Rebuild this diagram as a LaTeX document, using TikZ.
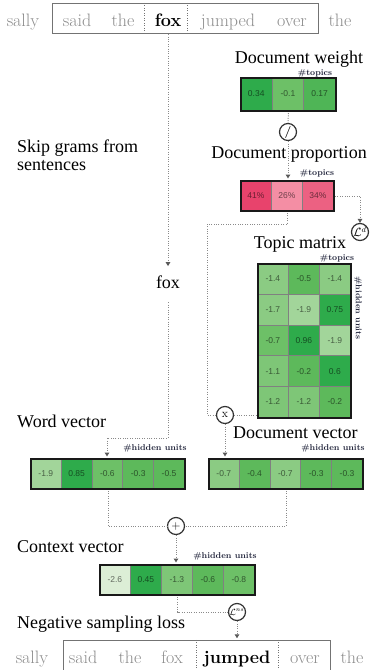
\documentclass[tikz,border=0pt]{standalone}
\usepackage{fontspec}
\newfontfamily\lblfont{Liberation Serif}
\newfontfamily\valfont{Liberation Sans}
\usetikzlibrary{arrows.meta,calc}
\definecolor{gA}{HTML}{2EAB4B}
\definecolor{gB}{HTML}{4FB556}
\definecolor{gC}{HTML}{5DB95B}
\definecolor{gD}{HTML}{6DC067}
\definecolor{gE}{HTML}{7EC677}
\definecolor{gF}{HTML}{8BCB83}
\definecolor{gG}{HTML}{A2D59A}
\definecolor{gH}{HTML}{DCEED6}
\definecolor{pA}{HTML}{E8436C}
\definecolor{pB}{HTML}{F48EA4}
\definecolor{pC}{HTML}{EC6182}
\definecolor{wordgray}{HTML}{8C8C8C}
\definecolor{conngray}{HTML}{8A8A8A}
\definecolor{hdrcol}{HTML}{20233A}
\newcommand{\cellrow}[6]{%
  \foreach \v/\c [count=\i from 0] in {#6}{%
    \node[cellbox, fill=\c, minimum width=#4pt, minimum height=#5pt, anchor=north west] (#1-\i) at ({#2+\i*#4},#3) {\v};
  }}
\begin{document}
\begin{tikzpicture}[x=1pt,y=-1pt,
  word/.style={font=\fontsize{18}{18}\selectfont, text=wordgray, inner sep=0pt, anchor=base},
  bword/.style={font=\fontsize{18}{18}\selectfont\bfseries, text=black, inner sep=0pt, anchor=base},
  wordbox/.style={draw=black!55, line width=0.9pt, inner sep=0pt, anchor=north west},
  sepline/.style={draw=black!55, line width=0.9pt, dash pattern=on 1pt off 1.5pt},
  lbl/.style={font=\lblfont\fontsize{18}{18}\selectfont, inner sep=0pt},
  hdr/.style={font=\fontsize{8.5}{9}\selectfont\bfseries, text=hdrcol, inner sep=0pt},
  cellbox/.style={draw=black!50, line width=0.8pt, inner sep=0pt, font=\valfont\fontsize{8.5}{9}\selectfont, text=black, text opacity=0.55},
  outerbox/.style={draw=black!90, line width=2pt, inner sep=0pt, anchor=north west},
  op/.style={circle, draw=black!80, line width=1.2pt, fill=white, minimum size=17pt, inner sep=0pt, font=\fontsize{12}{12}\selectfont},
  conn/.style={draw=conngray, line width=1pt, dash pattern=on 1pt off 1.4pt},
  aconn/.style={conn, -{Triangle[length=4pt,width=4.5pt,fill=black!65,color=black!65]}}
]
\useasboundingbox (0,0) rectangle (371,670);

% ---------- top sentence ----------
\node[wordbox, minimum width=266pt, minimum height=30pt] (topbox) at (52,3) {};
\node[inner sep=0pt, minimum width=42pt, minimum height=30pt] (tfoxcell) at (166,18) {};
\draw[sepline] (tfoxcell.north west) -- (tfoxcell.south west);
\draw[sepline] (tfoxcell.north east) -- (tfoxcell.south east);
\node[word] (t1) at (23,26) {sally};
\node[word] (t2) at (77,26) {said};
\node[word] (t3) at (123,26) {the};
\node[bword] (t4) at (168,26) {fox};
\node[word] (t5) at (228,26) {jumped};
\node[word] (t6) at (292,26) {over};
\node[word] (t7) at (340,26) {the};

% ---------- labels ----------
\node[lbl, anchor=base west] (skip1) at (17,152) {Skip grams from};
\node[lbl, anchor=base west] (skip2) at (17,170) {sentences};
\node[lbl, anchor=base] (foxlbl) at (168,288) {fox};
\node[lbl, anchor=base] (dwlbl) at (299,63) {Document weight};
\node[lbl, anchor=base] (dplbl) at (289,158) {Document proportion};
\node[lbl, anchor=base] (tmlbl) at (300,248) {Topic matrix};
\node[lbl, anchor=base west] (wvlbl) at (17,427) {Word vector};
\node[lbl, anchor=base west] (dvlbl) at (233,438) {Document vector};
\node[lbl, anchor=base west] (ctxlbl) at (17,552) {Context vector};
\node[lbl, anchor=base west] (nslbl) at (17,628) {Negative sampling loss};

% ---------- document weight ----------
\cellrow{dwc}{240}{77}{31.67}{33}{0.34/gA,-0.1/gD,0.17/gB}
\node[outerbox, minimum width=95pt, minimum height=33pt] (dw) at (240,77) {};
\node[hdr] (dwhdr) at (315,73) {\#topics};

% ---------- document proportion ----------
\cellrow{dpc}{240}{180}{31}{30}{41\%/pA,26\%/pB,34\%/pC}
\node[outerbox, minimum width=93pt, minimum height=30pt] (dp) at (240,180) {};
\node[hdr] (dphdr) at (317,173) {\#topics};

% ---------- topic matrix ----------
\cellrow{tmA}{257}{263}{31}{30.8}{-1.4/gF,-0.5/gC,-1.4/gF}
\cellrow{tmB}{257}{293.8}{31}{30.8}{-1.7/gF,-1.9/gG,0.75/gA}
\cellrow{tmC}{257}{324.6}{31}{30.8}{-0.7/gD,0.96/gA,-1.9/gG}
\cellrow{tmD}{257}{355.4}{31}{30.8}{-1.1/gE,-0.2/gC,0.6/gA}
\cellrow{tmE}{257}{386.2}{31}{30.8}{-1.2/gE,-1.2/gE,-0.2/gC}
\node[outerbox, minimum width=93pt, minimum height=154pt] (tm) at (257,263) {};
\node[hdr] (tmhdr) at (337,258) {\#topics};
\node[hdr, rotate=-90] (tmhdr2) at (358,308) {\#hidden units};

% ---------- word vector ----------
\cellrow{wvc}{30}{458}{30.8}{30}{-1.9/gG,0.85/gA,-0.6/gD,-0.3/gC,-0.5/gC}
\node[outerbox, minimum width=154pt, minimum height=30pt] (wv) at (30,458) {};
\node[hdr] (wvhdr) at (155,448) {\#hidden units};

% ---------- document vector ----------
\cellrow{dvc}{208}{458}{30.8}{30}{-0.7/gF,-0.4/gC,-0.7/gF,-0.3/gC,-0.3/gC}
\node[outerbox, minimum width=154pt, minimum height=30pt] (dv) at (208,458) {};
\node[hdr] (dvhdr) at (333,448) {\#hidden units};

% ---------- context vector ----------
\cellrow{cxc}{99}{564}{31}{30}{-2.6/gH,0.45/gA,-1.3/gE,-0.6/gC,-0.8/gD}
\node[outerbox, minimum width=155pt, minimum height=30pt] (ctx) at (99,564) {};
\node[hdr] (ctxhdr) at (225,556) {\#hidden units};

% ---------- operators ----------
\node[op] (div) at (288,132) {\textbf{/}};
\node[op] (Ld) at (360,232) {$\mathcal{L}^{d}$};
\node[op] (pmul) at (225,415) {x};
\node[op] (padd) at (176,526) {$+$};
\node[op, font=\fontsize{9}{9}\selectfont] (Lns) at (237,612) {$\mathcal{L}^{ns}$};

% ---------- bottom sentence ----------
\node[wordbox, minimum width=267pt, minimum height=29.5pt] (botbox) at (63,640) {};
\node[inner sep=0pt, minimum width=81pt, minimum height=29.5pt] (bjcell) at (237.5,654.75) {};
\draw[sepline] (bjcell.north west) -- (bjcell.south west);
\draw[sepline] (bjcell.north east) -- (bjcell.south east);
\node[word] (b1) at (32,663) {sally};
\node[word] (b2) at (83,663) {said};
\node[word] (b3) at (130,663) {the};
\node[word] (b4) at (172,663) {fox};
\node[bword] (b5) at (237,663) {jumped};
\node[word] (b6) at (305,663) {over};
\node[word] (b7) at (352,663) {the};

% ---------- connectors ----------
\draw[aconn, shorten <=1pt, shorten >=9pt] (tfoxcell.south -| t4) -- (t4 |- foxlbl.north);
\coordinate (k1) at (107,438);
\draw[aconn, shorten <=14pt, shorten >=1.5pt] (foxlbl.south) |- (k1) -- (k1 |- wv.north);
\draw[conn, shorten <=1pt] (dw.south) -- (div.north);
\draw[aconn, shorten >=1.5pt] (div.south) -- (div.south |- dp.north);
\draw[aconn] (dp.east) -| (Ld.north);
\coordinate (k3) at (207,224);
\draw[conn, shorten <=1pt] (dp.south) -- (dp.south |- k3) -- (k3) |- (pmul.west);
\draw[conn] (pmul.east) -- (pmul.east -| tm.west);
\draw[aconn, shorten >=1.5pt] (pmul.south) -- (pmul.south |- dv.north);
\draw[conn, shorten <=1pt] (wv.south) |- (padd.west);
\draw[conn, shorten <=1pt] (dv.south) |- (padd.east);
\draw[aconn, shorten >=1.5pt] (padd.south) -- (padd.south |- ctx.north);
\draw[conn, shorten <=1pt] (ctx.south) |- (Lns.west);
\draw[aconn, shorten >=1.5pt] (Lns.south) -- (Lns.south |- bjcell.north);
\end{tikzpicture}
\end{document}
